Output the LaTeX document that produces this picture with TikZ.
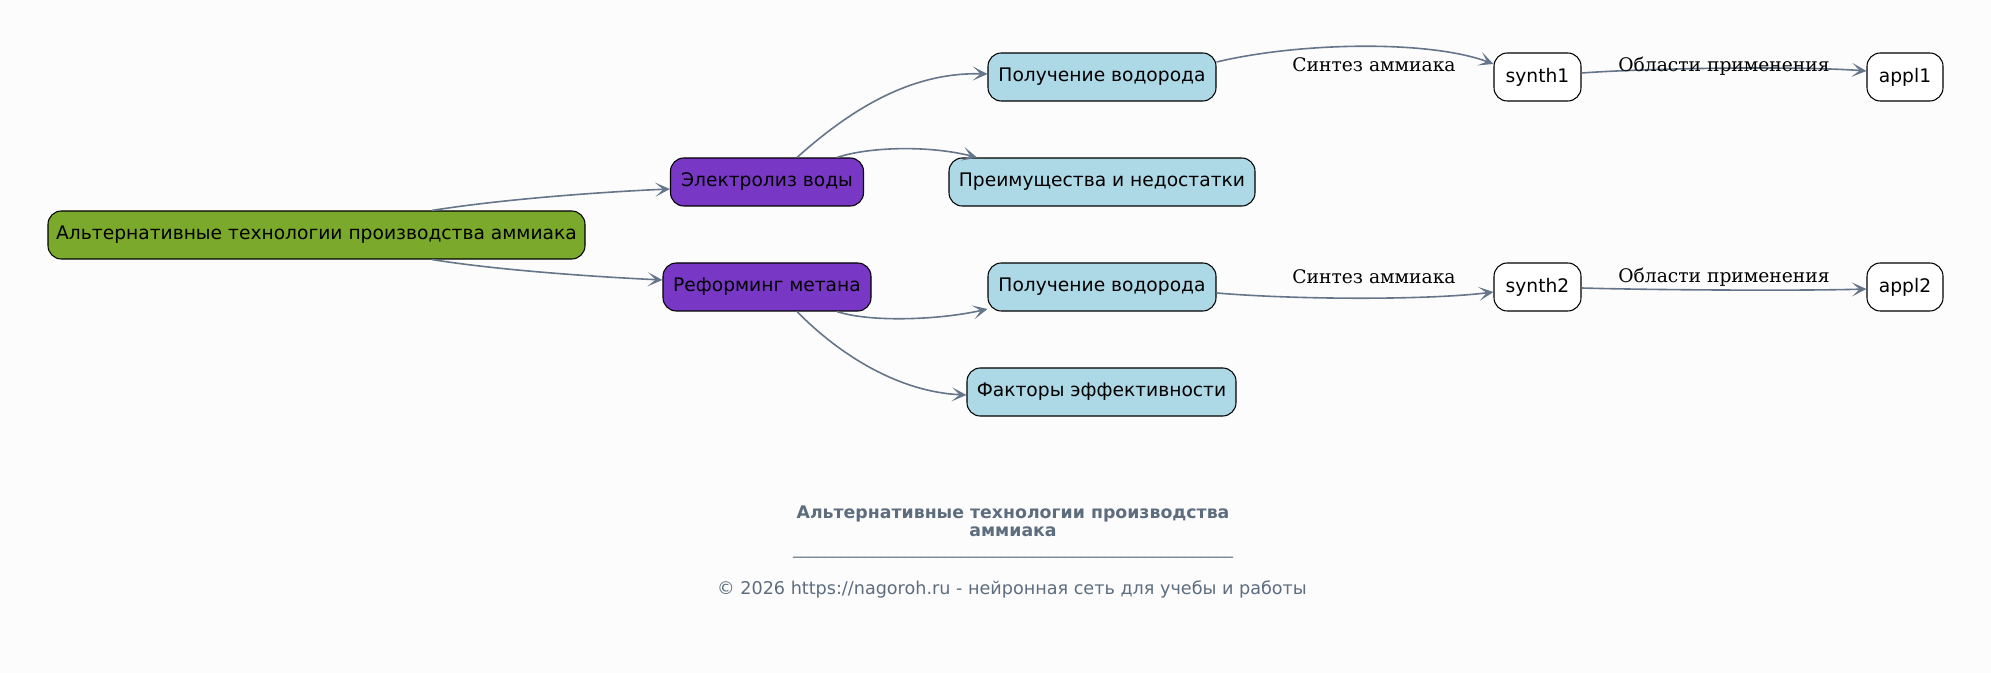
\documentclass[tikz,border=0pt]{standalone}
\usepackage{fontspec}
\setmainfont{DejaVu Sans}
\newfontfamily\serifface{DejaVu Serif}
\usetikzlibrary{arrows.meta,calc}
\definecolor{bgc}{HTML}{FCFCFD}
\definecolor{rootgreen}{HTML}{7BA92B}
\definecolor{purp}{HTML}{7837C4}
\definecolor{lblue}{HTML}{ADD8E6}
\definecolor{edgec}{HTML}{66768A}
\definecolor{footc}{HTML}{5D6D7E}
\begin{document}
\begin{tikzpicture}[x=0.75pt,y=-0.75pt,
  box/.style={draw=black, line width=0.8pt, rounded corners=10pt, minimum height=36pt,
    inner sep=0pt, font=\fontsize{14}{16}\selectfont, text=black},
  rootbox/.style={box, fill=rootgreen},
  midbox/.style={box, fill=purp},
  leafbox/.style={box, fill=lblue},
  whitebox/.style={box, fill=white},
  conn/.style={draw=edgec, line width=1.2pt, -{Stealth[length=11pt,width=10.5pt,inset=5.8pt]}},
  elabel/.style={font=\serifface\fontsize{14}{16}\selectfont, text=black, inner sep=0pt}]
\fill[bgc] (0,0) rectangle (1991,673);
\useasboundingbox (0,0) rectangle (1991,673);

\node[rootbox, minimum width=402.75pt] (root) at (316.5,235) {Альтернативные технологии производства аммиака};
\node[midbox, minimum width=144.75pt] (el) at (767,182) {Электролиз воды};
\node[midbox, minimum width=156pt] (rf) at (767,287) {Реформинг метана};
\node[leafbox, minimum width=171pt] (p1) at (1102,77) {Получение водорода};
\node[leafbox, minimum width=229.5pt] (pr) at (1102,182) {Преимущества и недостатки};
\node[leafbox, minimum width=171pt] (p2) at (1102,287) {Получение водорода};
\node[leafbox, minimum width=201.75pt] (fe) at (1101.5,392) {Факторы эффективности};
\node[whitebox, minimum width=65.25pt] (s1) at (1537.5,77) {synth1};
\node[whitebox, minimum width=57pt] (a1) at (1905,77) {appl1};
\node[whitebox, minimum width=65.25pt] (s2) at (1537.5,287) {synth2};
\node[whitebox, minimum width=57pt] (a2) at (1905,287) {appl2};

\draw[conn] ($(root.north)+(115.5,0)$) .. controls +(68,-11) and +(-70,3) .. ($(el.west)+(0,7)$);
\draw[conn] ($(root.south)+(115.5,0)$) .. controls +(68,11) and +(-63,-3) .. ($(rf.west)+(0,-7)$);
\draw[conn] ($(el.north)+(30,0)$) .. controls +(58,-52) and +(-73,-2) .. ($(p1.west)+(0,-3)$);
\draw[conn] ($(el.north)+(70,0)$) .. controls +(33,-11) and +(-47,-12) .. ($(pr.north)+(-125,0)$);
\draw[conn] ($(rf.south)+(70,0)$) .. controls +(33,11) and +(-48,11) .. ($(p2.west)+(0,22)$);
\draw[conn] ($(rf.south)+(30,0)$) .. controls +(43,44) and +(-67,-3) .. ($(fe.west)+(0,3)$);
\draw[conn] ($(p1.east)+(0,-15)$) .. controls +(84,-20) and +(-64,-24) .. ($(s1.west)+(0,-13)$);
\draw[conn] ($(p2.east)+(0,6)$) .. controls +(84,7) and +(-64,8) .. ($(s2.west)+(0,5)$);
\draw[conn] ($(s1.east)+(0,-4)$) .. controls +(69,-5) and +(-67,-5) .. ($(a1.west)+(0,-6)$);
\draw[conn] ($(s2.east)+(0,1)$) .. controls +(69,2) and +(-67,2) .. ($(a2.west)+(0,2)$);

\node[elabel] (l1) at (1374,65) {Синтез аммиака};
\node[elabel] (l2) at (1374,277) {Синтез аммиака};
\node[elabel] (l3) at (1724,66) {Области применения};
\node[elabel] (l4) at (1724,277) {Области применения};

\node[text=footc, font=\bfseries\fontsize{13}{13.5}\selectfont, align=center, inner sep=0pt] (title) at (1013,521)
  {Альтернативные технологии производства\\аммиака};
\node[text=footc, font=\fontsize{12}{14}\selectfont, inner sep=0pt, anchor=base] (rule) at (1013,554)
  {\_\_\_\_\_\_\_\_\_\_\_\_\_\_\_\_\_\_\_\_\_\_\_\_\_\_\_\_\_\_\_\_\_\_\_\_\_\_\_\_\_\_\_\_\_\_\_\_\_\_\_\_\_\_\_};
\node[text=footc, font=\fontsize{13.2}{15}\selectfont, inner sep=0pt] (copy) at (1012,589)
  {© 2026 https://nagoroh.ru - нейронная сеть для учебы и работы};
\end{tikzpicture}
\end{document}
